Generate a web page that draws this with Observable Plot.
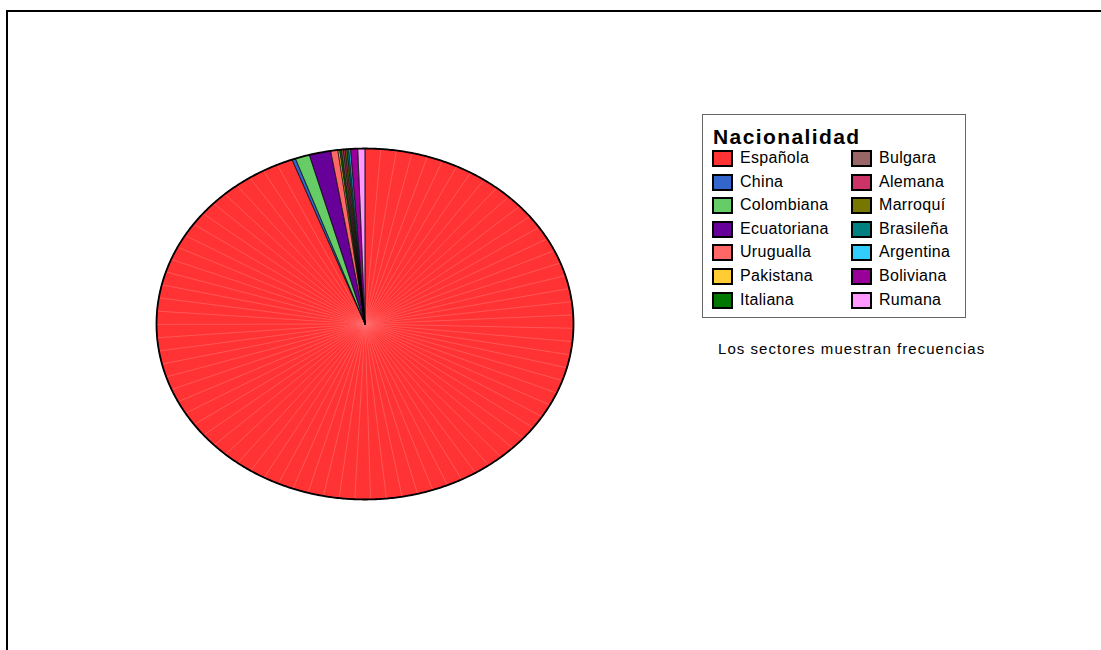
<!DOCTYPE html>
<html>
<head>
<meta charset="utf-8">
<script src="https://cdn.jsdelivr.net/npm/d3@7"></script>
<script src="https://cdn.jsdelivr.net/npm/@observablehq/plot@0.6"></script>
<style>
  html, body { margin: 0; padding: 0; width: 1101px; height: 650px; overflow: hidden; background: #fff; }
  body { position: relative; font-family: "Liberation Sans", Arial, sans-serif; }
  #chart { position: absolute; left: 0; top: 0; }
  #frame { position: absolute; left: 6px; top: 10px; width: 1300px; height: 900px; border: 2px solid #000; pointer-events: none; z-index: 5; }
  #legend { position: absolute; left: 702px; top: 114px; width: 264px; height: 204px; border: 1px solid #666; box-sizing: border-box; z-index: 6; background: #fff; }
  #legend .title { position: absolute; left: 10px; top: 10px; font-size: 21px; font-weight: bold; letter-spacing: 1.4px; line-height: 24px; color: #000; }
  #legend .item { position: absolute; height: 20px; }
  #legend .sw { position: absolute; left: 0; top: 0; width: 21px; height: 17px; border: 2px solid #000; box-sizing: border-box; }
  #legend .lab { position: absolute; left: 28px; top: -1px; font-size: 16px; line-height: 18px; letter-spacing: 0.3px; white-space: nowrap; color: #000; }
  #caption { position: absolute; left: 718px; top: 340px; font-size: 15px; letter-spacing: 1.05px; white-space: nowrap; color: #000; z-index: 6; }
</style>
</head>
<body>
<div id="chart"></div>
<div id="frame"></div>
<div id="legend"></div>
<div id="caption"></div>
<script>
// ---- data ----
const categories = ["Española","China","Colombiana","Ecuatoriana","Urugualla","Pakistana","Italiana","Bulgara","Alemana","Marroquí","Brasileña","Argentina","Boliviana","Rumana"];
const counts = [679, 2, 8, 12, 4, 1, 1, 1, 1, 1, 1, 1, 4, 4];
const colors = ["#ff3333","#3366cc","#66cc66","#660099","#ff6666","#ffcc33","#007700","#996666","#cc3366","#777700","#008080","#33ccff","#990099","#ff99ff"];
const legendTitle = "Nacionalidad";
const captionText = "Los sectores muestran frecuencias";

// ---- geometry from data ----
const rows = categories.map((name, i) => ({name, count: counts[i]}));
const arcs = d3.pie().sort(null).value(d => d.count).startAngle(0).endAngle(2 * Math.PI)(rows);

const wedgePts = [];
arcs.forEach(a => {
  const name = a.data.name;
  wedgePts.push({name, x: 0, y: 0});
  const n = Math.max(2, Math.ceil((a.endAngle - a.startAngle) / (Math.PI / 360)));
  for (let k = 0; k <= n; k++) {
    const t = a.startAngle + (a.endAngle - a.startAngle) * k / n;
    wedgePts.push({name, x: Math.sin(t), y: Math.cos(t)});
  }
  wedgePts.push({name, x: 0, y: 0});
});

// faint rendering seams inside the big slice (split into equal parts)
const big = arcs[0];
const seamParts = 78;
const seams = d3.range(1, seamParts).map(k => {
  const t = big.startAngle + (big.endAngle - big.startAngle) * k / seamParts;
  return {x: Math.sin(t), y: Math.cos(t)};
});

const outline = d3.range(0, 721).map(k => {
  const t = k / 720 * 2 * Math.PI;
  return {x: Math.sin(t), y: Math.cos(t)};
});

const chart = Plot.plot({
  width: 1101,
  height: 650,
  margin: 0,
  axis: null,
  style: {background: "transparent"},
  x: {domain: [-1, 1], range: [156, 573]},
  y: {domain: [-1, 1], range: [499, 148]},
  color: {domain: categories, range: colors},
  marks: [
    Plot.line(wedgePts, {x: "x", y: "y", z: "name", fill: "name", stroke: "none", curve: "linear"}),
    Plot.link(seams, {x1: () => 0, y1: () => 0, x2: "x", y2: "y", stroke: "#ff6e6e", strokeWidth: 0.6}),
    Plot.line(wedgePts, {x: "x", y: "y", z: "name", fill: "none", stroke: "#000", strokeWidth: 0.55, strokeLinejoin: "miter"}),
    Plot.line(outline, {x: "x", y: "y", fill: "none", stroke: "#000", strokeWidth: 1.8})
  ]
});
document.getElementById("chart").appendChild(chart);

// ---- legend ----
const legend = document.getElementById("legend");
const t = document.createElement("div");
t.className = "title";
t.textContent = legendTitle;
legend.appendChild(t);
categories.forEach((name, i) => {
  const col = Math.floor(i / 7), row = i % 7;
  const it = document.createElement("div");
  it.className = "item";
  it.style.left = (col === 0 ? 9 : 148) + "px";
  it.style.top = (35 + row * 23.6) + "px";
  const sw = document.createElement("div");
  sw.className = "sw";
  sw.style.background = colors[i];
  const lab = document.createElement("div");
  lab.className = "lab";
  lab.textContent = name;
  it.appendChild(sw);
  it.appendChild(lab);
  legend.appendChild(it);
});
document.getElementById("caption").textContent = captionText;
</script>
</body>
</html>
